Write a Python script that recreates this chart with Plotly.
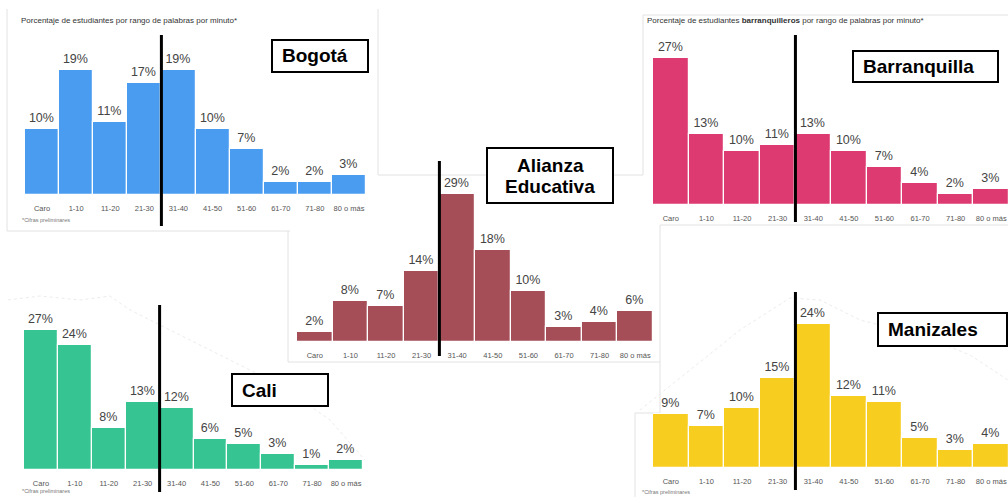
import plotly.graph_objects as go

W, H = 1008, 497
FONT = "Liberation Sans, Arial, sans-serif"
LABEL_GRAY = "#444444"
TICK_GRAY = "#555555"
CARD_LINE = "#e2e2e2"

# --- data ---
rangos = ["Caro", "1-10", "11-20", "21-30", "31-40", "41-50", "51-60", "61-70", "71-80", "80 o más"]
bogota = [10, 19, 11, 17, 19, 10, 7, 2, 2, 3]
barranquilla = [27, 13, 10, 11, 13, 10, 7, 4, 2, 3]
alianza = [2, 8, 7, 14, 29, 18, 10, 3, 4, 6]
cali = [27, 24, 8, 13, 12, 6, 5, 3, 1, 2]
manizales = [9, 7, 10, 15, 24, 12, 11, 5, 3, 4]
titulo = "Porcentaje de estudiantes por rango de palabras por minuto*"
titulo_baq = "Porcentaje de estudiantes <b>barranquilleros</b> por rango de palabras por minuto*"
nota = "*Cifras preliminares"


def px_x(x):
    return x / W


def px_y(y):
    return 1 - y / H


# panel geometry in pixels: x0, x1, baseline, top, px per %, x range end
panels = [
    dict(name=["Bogotá"], data=bogota, color="#4a9cf0", x0=25, x1=366, base=195, top=30, ppp=6.6, xend=9.5,
         vline=(35, 226), box=(272, 40, 368, 72), center=False),
    dict(name=["Barranquilla"], data=barranquilla, color="#dc3a71", x0=653, x1=1008, base=205, top=30, ppp=5.45,
         xend=9.47, vline=(35, 222), box=(853, 51, 998, 82), center=False),
    dict(name=["Alianza", "Educativa"], data=alianza, color="#a54e58", x0=297, x1=653, base=342, top=150, ppp=5.1,
         xend=9.5, vline=(161, 356), box=(487, 148, 613, 203), center=True),
    dict(name=["Cali"], data=cali, color="#36c592", x0=24, x1=363, base=470, top=300, ppp=5.2, xend=9.5,
         vline=(305, 492), box=(232, 374, 328, 406), center=False),
    dict(name=["Manizales"], data=manizales, color="#f7cd1f", x0=653, x1=1008, base=468, top=300, ppp=6.0,
         xend=9.47, vline=(292, 490), box=(878, 313, 1007, 346), center=False),
]

fig = go.Figure()
shapes = []
annotations = []

# faint card borders and map silhouettes behind the charts
card_lines = [
    (7, 9, 7, 231), (7, 231, 290, 231), (378, 9, 378, 175), (378, 175, 643, 175),
    (643, 15, 1008, 15), (643, 15, 643, 175), (660, 225, 1008, 225), (660, 225, 660, 413),
    (288, 231, 288, 362), (288, 362, 660, 362), (635, 413, 660, 413), (635, 413, 635, 497),
]
for x0, y0, x1, y1 in card_lines:
    shapes.append(dict(type="line", xref="paper", yref="paper", layer="below",
                       x0=px_x(x0), y0=px_y(y0), x1=px_x(x1), y1=px_y(y1),
                       line=dict(color=CARD_LINE, width=1)))

silhouettes = [
    [(8, 300), (40, 296), (80, 300), (110, 296), (130, 310), (200, 345), (280, 385), (330, 420), (365, 460)],
    [(640, 410), (690, 370), (740, 330), (790, 298), (820, 300), (860, 320), (920, 335), (970, 355), (1008, 380)],
]
for pts in silhouettes:
    path = "M " + " L ".join(f"{px_x(x):.4f},{px_y(y):.4f}" for x, y in pts)
    shapes.append(dict(type="path", xref="paper", yref="paper", layer="below", path=path,
                       line=dict(color="#ececec", width=1, dash="dot")))

for i, p in enumerate(panels, start=1):
    xa = "x" if i == 1 else f"x{i}"
    ya = "y" if i == 1 else f"y{i}"
    fig.add_trace(go.Bar(
        x=rangos, y=p["data"], xaxis=xa, yaxis=ya,
        marker=dict(color=p["color"], line=dict(color="white", width=1.2)),
        text=[f"{v}%" for v in p["data"]], textposition="outside",
        textfont=dict(family=FONT, size=12.5, color=LABEL_GRAY),
        cliponaxis=False, showlegend=False, hoverinfo="skip",
    ))
    ymax = (p["base"] - p["top"]) / p["ppp"]
    fig.layout[("xaxis" if i == 1 else f"xaxis{i}")] = dict(
        domain=[px_x(p["x0"]), px_x(p["x1"])], anchor=ya, type="category",
        range=[-0.5, p["xend"]], showgrid=False, zeroline=False, showline=False,
        ticks="", ticklabelstandoff=7,
        tickfont=dict(family=FONT, size=7.5, color=TICK_GRAY), fixedrange=True,
    )
    fig.layout[("yaxis" if i == 1 else f"yaxis{i}")] = dict(
        domain=[px_y(p["base"]), px_y(p["top"])], anchor=xa, range=[0, ymax],
        visible=False, fixedrange=True,
    )
    # reading benchmark line between 21-30 and 31-40
    shapes.append(dict(type="line", xref=xa, yref="paper", x0=3.5, x1=3.5,
                       y0=px_y(p["vline"][1]), y1=px_y(p["vline"][0]),
                       line=dict(color="black", width=3)))
    bx0, by0, bx1, by1 = p["box"]
    shapes.append(dict(type="rect", xref="paper", yref="paper",
                       x0=px_x(bx0), y0=px_y(by1), x1=px_x(bx1), y1=px_y(by0),
                       line=dict(color="black", width=2), fillcolor="white"))
    n = len(p["name"])
    step = 21
    for k, line_text in enumerate(p["name"]):
        cy = (by0 + by1) / 2 + (k - (n - 1) / 2) * step
        if p["center"]:
            ax, anchor = (bx0 + bx1) / 2, "center"
        else:
            ax, anchor = bx0 + 8, "left"
        annotations.append(dict(xref="paper", yref="paper", x=px_x(ax), y=px_y(cy),
                                xanchor=anchor, yanchor="middle", text=f"<b>{line_text}</b>",
                                showarrow=False, font=dict(family=FONT, size=19, color="black")))

# chart titles and footnotes
for x, y, t in [(19, 21, titulo), (645, 21, titulo_baq)]:
    annotations.append(dict(xref="paper", yref="paper", x=px_x(x), y=px_y(y), xanchor="left", yanchor="middle",
                            text=t, showarrow=False, font=dict(family=FONT, size=8, color="#333333")))
for x, y in [(20, 220), (20, 491), (640, 492)]:
    annotations.append(dict(xref="paper", yref="paper", x=px_x(x), y=px_y(y), xanchor="left", yanchor="middle",
                            text=nota, showarrow=False, font=dict(family=FONT, size=5.5, color="#777777")))

fig.update_layout(
    width=W, height=H,
    margin=dict(l=0, r=0, t=0, b=0),
    paper_bgcolor="white", plot_bgcolor="rgba(0,0,0,0)",
    bargap=0, shapes=shapes, annotations=annotations,
    font=dict(family=FONT),
)

fig.write_html("out.html", config=dict(displayModeBar=False),
               post_script="document.body.style.margin='0';")
